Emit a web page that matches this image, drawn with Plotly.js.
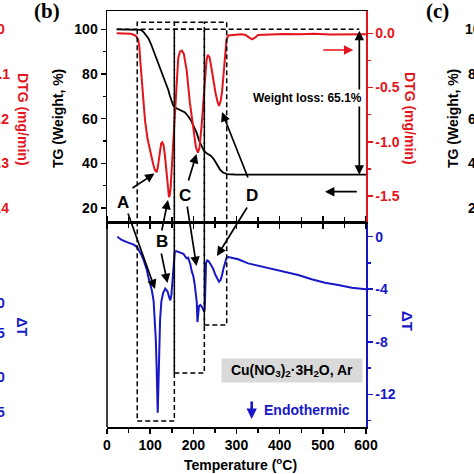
<!DOCTYPE html>
<html><head><meta charset="utf-8">
<script src="https://cdn.plot.ly/plotly-3.0.1.min.js"></script>
<style>html,body{margin:0;padding:0;background:#fff}#c{width:474px;height:474px}</style>
</head><body><div id="c"></div>
<script>
// ---- data ----
const tgT = [22.5,53,72.5,78.8,84,90.3,95.7,101.9,107.3,113.5,118.8,125,130.4,136.7,142,145.9,149.4,152.9,157.5,164.5,173,180.7,187.6,194.6,201.5,207.8,213,219.4,224.7,231.7,241,248,254.8,261.8,268.7,278,296,600];
const tgV = [100,100,100,99.7,98.9,97.4,96.0,93.4,90.7,87.6,84.8,81.8,78.8,75.5,72.8,70.1,67.9,66.1,65.0,64.3,63.7,62.8,61.2,59.2,56.3,53.6,50.4,47.3,45.5,44.4,43.3,41.7,39.3,37.2,35.9,35.2,35.0,34.9];

const dtgT = [22.5,40,55,63,68,72.5,75,77,80.4,84,88,93.8,99.6,106.6,111,115,117.5,119.5,122.5,125.5,128,131,134,137.5,141,143.6,145.5,147.5,150.5,154,157.5,161.5,165,169,173.5,178,184.5,192,200,206,210.5,214,219,223.5,227,230.5,233.3,237.5,242,246.3,251.4,256,259.5,263,266.5,270,273.5,276.8,281,296,310,320,331,336,342,350,378,410,447,480,517,560,600];
const dtgV = [0.0,0.0,-0.005,-0.015,-0.03,-0.06,-0.13,-0.25,-0.40,-0.62,-0.80,-0.97,-1.08,-1.20,-1.26,-1.28,-1.24,-1.17,-1.06,-1.015,-1.005,-1.03,-1.12,-1.26,-1.42,-1.51,-1.49,-1.42,-1.21,-0.98,-0.71,-0.40,-0.23,-0.17,-0.16,-0.19,-0.34,-0.64,-0.89,-1.05,-1.10,-1.06,-0.86,-0.62,-0.40,-0.25,-0.20,-0.22,-0.32,-0.43,-0.55,-0.63,-0.67,-0.63,-0.54,-0.38,-0.20,-0.06,-0.02,-0.012,-0.008,-0.014,-0.04,-0.055,-0.043,-0.016,-0.011,-0.006,-0.008,-0.004,-0.011,-0.007,-0.008];

const dtaT = [24,34,49,62,70,76,80,84,88,92,96,100,104,108,111,113,115,117.5,119,121,123,126,130,135,140,144,146.5,149,151,153.5,157,160,164,170,177,181,184.5,188,190,193,196,200,203,206,208,209.5,211,213,216,219,222,225,226.5,228,229.5,232,235,240,246,251,255,259.5,263,266,270,273.5,277,281,290,304,327,358,389,424,443,474,505,536,567,600];
const dtaV = [0.0,-0.25,-0.45,-0.6,-0.8,-1.1,-1.4,-1.7,-2.05,-2.5,-3.1,-3.6,-4.1,-4.9,-6.2,-7.8,-10.0,-13.4,-11.5,-8.5,-6.3,-4.9,-4.3,-3.95,-4.15,-4.6,-4.85,-4.5,-3.6,-2.5,-1.15,-1.1,-1.15,-1.2,-1.3,-1.5,-1.65,-1.6,-1.8,-2.1,-2.6,-3.0,-3.6,-4.3,-5.0,-6.5,-5.6,-5.3,-5.2,-5.3,-5.5,-5.7,-5.5,-4.0,-2.0,-1.8,-1.85,-2.1,-2.45,-2.9,-3.2,-3.43,-3.3,-3.0,-2.4,-1.9,-1.6,-1.55,-1.6,-1.72,-2.03,-2.28,-2.54,-2.79,-2.92,-3.24,-3.5,-3.68,-3.88,-4.01];

const xTicks = [0,100,200,300,400,500,600];
const tgTicks = [20,40,60,80,100];
const dtgTicks = [0,-0.5,-1.0,-1.5];
const dtgTickText = ['0.0','-0.5','-1.0','-1.5'];
const dtaTicks = [0,-4,-8,-12];
const dtaTickText = ['0','-4','-8','-12'];
const weightLoss = 65.1;

// ---- styling ----
const RED = '#e3141b', BLUE = '#1717c8', BLK = '#000';
const FF = 'Liberation Sans, Arial, sans-serif';
const f = (s, c) => ({family: FF, size: s, color: c || BLK, weight: 'bold'});
const L = 107, R = 366, T = 11, B = 427;
const PX = p => (p - L) / (R - L);
const PY = p => (B - p) / (B - T);
const SPLIT = PY(222);

const traces = [
  {x: dtgT, y: dtgV, xaxis: 'x2', yaxis: 'y2', mode: 'lines', line: {color: RED, width: 2}},
  {x: tgT, y: tgV, xaxis: 'x2', yaxis: 'y', mode: 'lines', line: {color: BLK, width: 1.8}},
  {x: dtaT, y: dtaV, xaxis: 'x', yaxis: 'y3', mode: 'lines', line: {color: BLUE, width: 2}}
];

function txt(px, py, text, font, extra) {
  return Object.assign({xref: 'paper', yref: 'paper', x: PX(px), y: PY(py), text: text, showarrow: false, font: font, xanchor: 'center', yanchor: 'middle'}, extra || {});
}
function arrow(tx, ty, hx, hy, color, extra) {
  return Object.assign({xref: 'paper', yref: 'paper', x: PX(hx), y: PY(hy), ax: tx - hx, ay: ty - hy, axref: 'pixel', ayref: 'pixel', text: '', showarrow: true, arrowhead: 2, arrowsize: 1.1, arrowwidth: 1.7, arrowcolor: color || BLK, standoff: 0}, extra || {});
}

const dash = {color: BLK, width: 1.5, dash: '5px,3px'};
const boxA = [70, 156, PY(421), PY(22.3)];
const boxC = [156, 225.5, PY(373), PY(29.3)];
const boxD = [225.5, 277.3, PY(325), PY(22.3)];
const rect = b => ({type: 'rect', xref: 'x', yref: 'paper', x0: b[0], x1: b[1], y0: b[2], y1: b[3], line: dash});

const shapes = [
  rect(boxA), rect(boxC), rect(boxD),
  {type: 'line', xref: 'x', yref: 'paper', x0: 156, x1: 225.5, y0: PY(22.3), y1: PY(22.3), line: dash},
  {type: 'line', xref: 'x', yref: 'y', x0: 22.5, x1: 584.5, y0: 100, y1: 100, line: dash},
  {type: 'line', xref: 'paper', yref: 'paper', x0: 0, x1: 0, y0: 0, y1: SPLIT, line: {color: BLK, width: 1.5}}
];

const serif = {family: 'Liberation Serif, Times New Roman, serif', size: 21, color: BLK, weight: 'bold'};
const ann = [
  // axis titles
  txt(58, 119, 'TG (Weight, %)', f(14), {textangle: -90}),
  txt(410, 118, 'DTG (mg/min)', f(14, RED), {textangle: 90}),
  txt(408, 321, 'ΔT', f(15, BLUE), {textangle: 90}),
  txt(240, 464, 'Temperature (<sup>o</sup>C)', f(14)),
  // panel letters
  txt(47, 11, '(b)', serif),
  txt(437, 11, '(c)', serif),
  // labels
  txt(123, 202, 'A', f(17)), txt(161.5, 241, 'B', f(17)), txt(184.5, 195, 'C', f(17)), txt(252, 195, 'D', f(17)),
  arrow(131, 189, 154.5, 173.5), arrow(127.5, 212, 155, 289),
  arrow(161.5, 232, 168, 200), arrow(161, 252, 167.5, 283),
  arrow(188, 182, 196.5, 154), arrow(187, 205, 196.5, 266),
  arrow(248.5, 179, 222, 112), arrow(248, 206, 217, 256),
  // weight loss
  {xref: 'x', yref: 'y', x: 584.5, y: 100 - weightLoss, ax: 584.5, ay: 100, axref: 'x', ayref: 'y', text: '', showarrow: true, arrowhead: 2, arrowside: 'end+start', arrowsize: 1.1, arrowwidth: 1.7, arrowcolor: BLK, standoff: 0, startstandoff: 0},
  txt(307, 98, 'Weight loss: ' + weightLoss + '%', f(12), {bgcolor: '#fff', borderpad: 1}),
  // direction arrows
  arrow(321.7, 50, 353.3, 50, RED),
  arrow(358.3, 191.7, 325, 191.7, BLK),
  // sample box
  txt(291.7, 370, 'Cu(NO<sub>3</sub>)<sub>2</sub>·3H<sub>2</sub>O, Ar', f(14), {bgcolor: '#d9d9d9', width: 136, height: 19, borderpad: 2}),
  arrow(251.7, 400, 251.7, 419, BLUE, {arrowwidth: 2.6, arrowsize: 0.8}),
  txt(262, 410, 'Endothermic', f(14, BLUE), {xanchor: 'left'}),
  // neighbouring panel fragments (left)
  txt(7, 29, '0', f(14, RED), {xanchor: 'right'}),
  txt(12, 74, '-0.1', f(14, RED), {xanchor: 'right'}),
  txt(11, 119, '-0.2', f(14, RED), {xanchor: 'right'}),
  txt(11, 163, '-0.3', f(14, RED), {xanchor: 'right'}),
  txt(11, 208, '-0.4', f(14, RED), {xanchor: 'right'}),
  txt(23, 119, 'DTG (mg/min)', f(14, RED), {textangle: 90}),
  txt(7, 303, '0', f(14, BLUE), {xanchor: 'right'}),
  txt(7, 333, '5', f(14, BLUE), {xanchor: 'right'}),
  txt(7, 377, '0', f(14, BLUE), {xanchor: 'right'}),
  txt(7, 412, '5', f(14, BLUE), {xanchor: 'right'}),
  txt(21.5, 327, 'ΔT', f(14, BLUE), {textangle: 90}),
  // neighbouring panel fragments (right)
  txt(453, 119, 'TG (Weight, %)', f(14), {textangle: -90}),
  txt(463, 29, '100', f(14), {xanchor: 'left'}),
  txt(466, 74, '80', f(14), {xanchor: 'left'}),
  txt(466, 119, '60', f(14), {xanchor: 'left'}),
  txt(466, 163, '40', f(14), {xanchor: 'left'}),
  txt(466, 208, '20', f(14), {xanchor: 'left'})
];

const common = {showgrid: false, zeroline: false, ticks: 'outside', ticklen: 5, tickwidth: 1.5, linewidth: 1.5, tickfont: f(14)};

const layout = {
  width: 474, height: 474,
  margin: {l: L, r: 474 - R, t: T, b: 474 - B, pad: 0},
  paper_bgcolor: '#fff', plot_bgcolor: '#fff', showlegend: false,
  xaxis: Object.assign({}, common, {domain: [0, 1], anchor: 'y3', range: [0, 600], tickmode: 'array', tickvals: xTicks,
    showline: true, linecolor: BLK, tickcolor: BLK, mirror: 'ticks',
    minor: {tick0: 0, dtick: 50, ticks: 'outside', ticklen: 4, tickwidth: 1.5, tickcolor: BLK}}),
  xaxis2: Object.assign({}, common, {domain: [0, 1], anchor: 'y', matches: 'x', range: [0, 600], tickmode: 'array', tickvals: xTicks,
    showticklabels: false, showline: true, linecolor: BLK, tickcolor: BLK, mirror: true,
    minor: {tick0: 0, dtick: 50, ticks: 'outside', ticklen: 4, tickwidth: 1.5, tickcolor: BLK}}),
  yaxis: Object.assign({}, common, {domain: [SPLIT, 1], anchor: 'x2', range: [13.73, 108.19], tickmode: 'array', tickvals: tgTicks,
    showline: true, linecolor: BLK, tickcolor: BLK,
    minor: {tick0: 0, dtick: 10, ticks: 'outside', ticklen: 3, tickwidth: 1.5, tickcolor: BLK}}),
  yaxis2: Object.assign({}, common, {overlaying: 'y', side: 'right', anchor: 'x2', range: [-1.7397, 0.2056], tickmode: 'array',
    tickvals: dtgTicks, ticktext: dtgTickText, showline: true, linecolor: RED, tickcolor: RED, tickfont: f(14, RED),
    minor: {tick0: 0, dtick: 0.25, ticks: 'outside', ticklen: 3, tickwidth: 1.5, tickcolor: RED}}),
  yaxis3: Object.assign({}, common, {domain: [0, SPLIT], anchor: 'x', side: 'right', range: [-14.49, 1.119], tickmode: 'array',
    tickvals: dtaTicks, ticktext: dtaTickText, showline: true, linecolor: BLUE, tickcolor: BLUE, tickfont: f(14, BLUE),
    minor: {tick0: 0, dtick: 2, ticks: 'outside', ticklen: 3, tickwidth: 1.5, tickcolor: BLUE}}),
  shapes: shapes,
  annotations: ann
};

Plotly.newPlot('c', traces, layout, {staticPlot: true, displayModeBar: false});
</script></body></html>
